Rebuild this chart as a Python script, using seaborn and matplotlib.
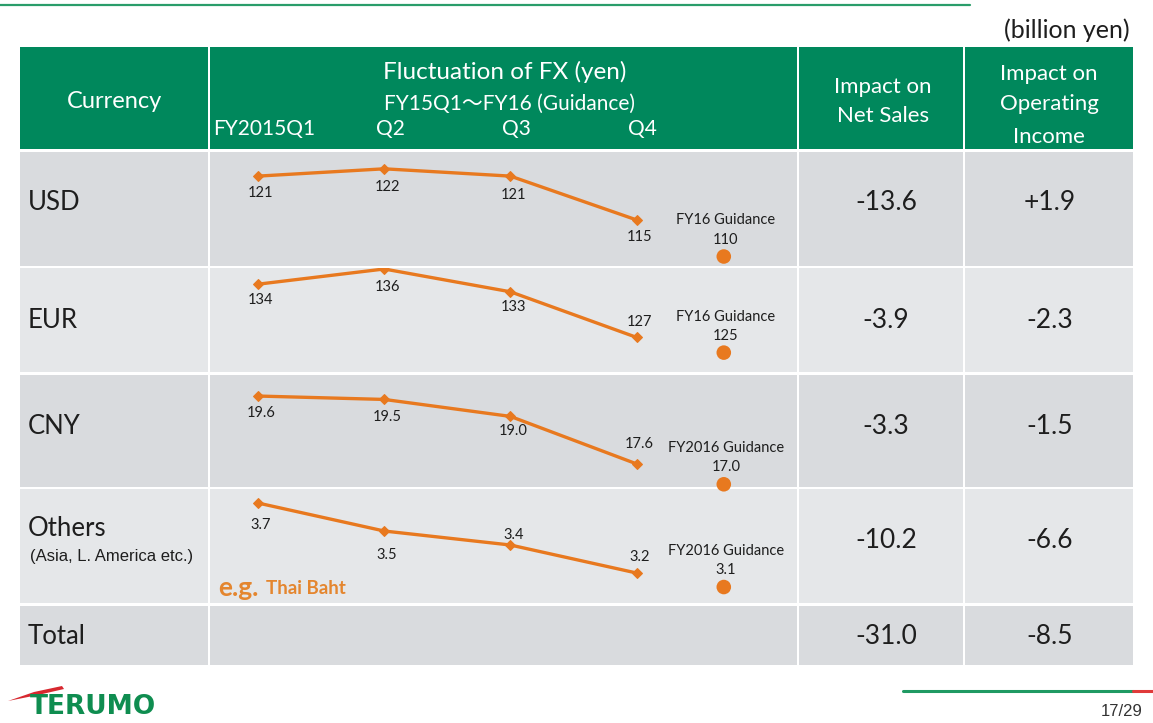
import pandas as pd
import matplotlib
matplotlib.use("Agg")
import matplotlib.pyplot as plt
from matplotlib.patches import Rectangle
import seaborn as sns

# -------------------------
# DATA
# -------------------------
quarters = ["FY2015Q1", "Q2", "Q3", "Q4"]
row_names = ["USD", "EUR", "CNY", "Others", "Total"]
usd_rates = [121, 122, 121, 115]
eur_rates = [134, 136, 133, 127]
cny_rates = [19.6, 19.5, 19.0, 17.6]
others_rates = [3.7, 3.5, 3.4, 3.2]
guidance_rates = [110, 125, 17.0, 3.1]
guidance_labels = ["FY16 Guidance", "FY16 Guidance", "FY2016 Guidance", "FY2016 Guidance"]
net_sales_impact = [-13.6, -3.9, -3.3, -10.2, -31.0]
op_income_impact = [1.9, -2.3, -1.5, -6.6, -8.5]

# -------------------------
# STYLE
# -------------------------
sns.set_theme(style="white")
plt.rcParams["font.family"] = ["Lato", "Noto Sans CJK JP", "DejaVu Sans"]

W, H = 1153, 723
GREEN = "#00885c"
ORANGE = "#e8791f"
DARK = "#d9dbde"
LIGHT = "#e5e7e9"
TXT = "#1e1e1e"

fig = plt.figure(figsize=(W / 100, H / 100), dpi=100)
bg = fig.add_axes([0, 0, 1, 1])
bg.set_xlim(0, W)
bg.set_ylim(H, 0)
bg.axis("off")


def cell(x0, y0, x1, y1, color):
    r = Rectangle((x0, y0), x1 - x0, y1 - y0, facecolor=color, edgecolor="none")
    bg.add_patch(r)
    return r


cols = [(20, 208), (210, 797), (799, 963), (965, 1133)]
rows = [(152, 266), (268, 372), (375, 487), (489, 603), (606, 665)]
row_colors = [DARK, LIGHT, DARK, LIGHT, DARK]

header_cells = [cell(x0, 47, x1, 149, GREEN) for x0, x1 in cols]
for (y0, y1), c in zip(rows, row_colors):
    for x0, x1 in cols:
        cell(x0, y0, x1, y1, c)

# top / bottom decoration
bg.plot([0, 970], [5, 5], color="#2a9d6a", lw=1.6)
bg.plot([903, 1133], [691, 691], color="#1f9a63", lw=2.2)
bg.plot([1133, 1153], [691, 691], color="#e03a3a", lw=2.2)
bg.text(1143, 712, "17/29", ha="right", va="center", fontsize=12,
        color="#333333", family="Liberation Sans")
bg.text(1130, 30, "(billion yen)", ha="right", va="center", fontsize=18, color=TXT)

# logo
bg.fill([8, 34, 62, 64, 38], [701, 692, 686, 689, 695], color="#d7282f", lw=0)
bg.text(30, 707, "TERUMO", ha="left", va="center", fontsize=19,
        fontweight="heavy", color="#0f8d50", family="DejaVu Sans")

# -------------------------
# HEADER
# -------------------------
hk = dict(color="white", ha="center", va="center")
bg.text(114, 101, "Currency", fontsize=17, **hk)
bg.text(505, 72, "Fluctuation of FX (yen)", fontsize=17.5, **hk)
bg.text(510, 104, "FY15Q1～FY16 (Guidance)", fontsize=15, **hk)
bg.text(883, 87, "Impact on", fontsize=16, **hk)
bg.text(883, 116, "Net Sales", fontsize=16, **hk)
bg.text(1049, 74, "Impact on", fontsize=16, **hk)
bg.text(1049, 104, "Operating", fontsize=16, **hk)
t = bg.text(1049, 137, "Income", fontsize=16, **hk)
t.set_clip_path(header_cells[3])

X0_PX, DX_PX = 258, 126.3
for i, q in enumerate(quarters):
    bg.text(X0_PX + DX_PX * i + 6, 129, q, fontsize=15, **hk)

# -------------------------
# ROWS
# -------------------------
row_series = [usd_rates, eur_rates, cny_rates, others_rates]
row_ylims = [(108.7, 124.3), (122.45, 136.13), (16.92, 20.22), (2.986, 3.8)]
fmts = ["{:.0f}", "{:.0f}", "{:.1f}", "{:.1f}"]
label_dy = [[-17, -18, -19, -17], [-16, -18, -15, 15],
            [-17, -18, -15, 20], [-22, -24, 10, 16]]
x_guid = 3.69

for i, rates in enumerate(row_series):
    y0, y1 = rows[i]
    ax = fig.add_axes([210 / W, 1 - y1 / H, (797 - 210) / W, (y1 - y0) / H])
    ax.patch.set_alpha(0)
    ax.set_xlim(-0.38, 4.27)
    ax.set_ylim(*row_ylims[i])
    ax.axis("off")
    df = pd.DataFrame({"pos": range(len(rates)), "rate": rates})
    sns.lineplot(data=df, x="pos", y="rate", ax=ax, color=ORANGE, lw=2.4,
                 marker="D", markersize=5, markeredgecolor=ORANGE)
    sns.scatterplot(x=[x_guid], y=[guidance_rates[i]], ax=ax, color=ORANGE,
                    s=110, edgecolor="none", clip_on=False)
    for p, v, dy in zip(df["pos"], rates, label_dy[i]):
        ax.annotate(fmts[i].format(v), (p, v), xytext=(3, dy),
                    textcoords="offset pixels", ha="center", va="center",
                    fontsize=10.5, color=TXT)
    g = guidance_rates[i]
    ax.annotate(guidance_labels[i], (x_guid, g), xytext=(2, 36),
                textcoords="offset pixels", ha="center", va="center",
                fontsize=10.5, color=TXT)
    ax.annotate(fmts[i].format(g), (x_guid, g), xytext=(2, 17),
                textcoords="offset pixels", ha="center", va="center",
                fontsize=10.5, color=TXT)

label_y = [203, 321, 426, 528, 637]
value_y = [203, 321, 426, 541, 637]
for name, ly, vy, ns, oi in zip(row_names, label_y, value_y,
                                net_sales_impact, op_income_impact):
    bg.text(28, ly, name, ha="left", va="center", fontsize=18.5, color=TXT)
    bg.text(886, vy, f"{ns:+.1f}", ha="center", va="center", fontsize=19, color=TXT)
    bg.text(1050, vy, f"{oi:+.1f}", ha="center", va="center", fontsize=19, color=TXT)

bg.text(30, 556, "(Asia, L. America etc.)", ha="left", va="center",
        fontsize=12, color=TXT, family="Liberation Sans")
bg.text(218, 588, "e.g.", ha="left", va="center", fontsize=19,
        fontweight="bold", color="#e4862f")
bg.text(266, 589, "Thai Baht", ha="left", va="center", fontsize=13.5,
        fontweight="bold", color="#e4862f")

fig.savefig("out.png", dpi=100)
